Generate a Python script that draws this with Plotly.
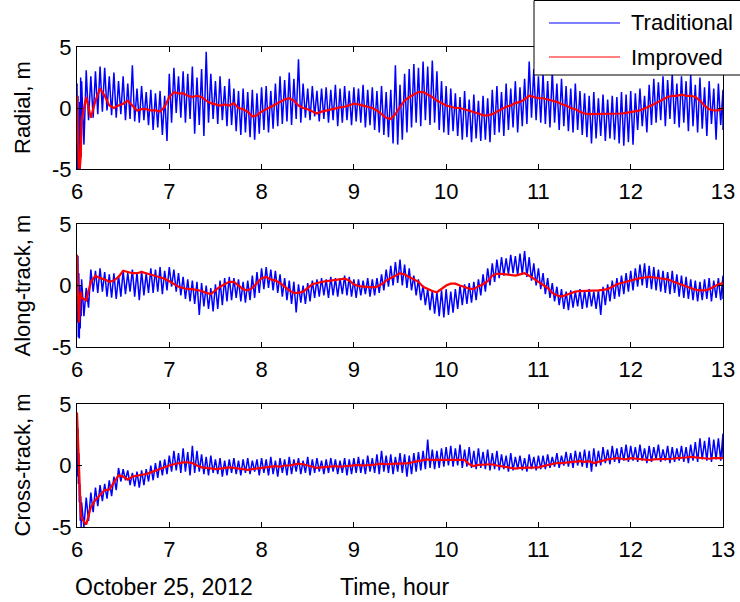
import plotly.graph_objects as go

# ---------------- data ----------------
time_head = [6.00, 6.01, 6.02, 6.03, 6.04]
time_body = [round(6.05 + 0.05 * i, 2) for i in range(140)]
time_h = time_head + time_body

x_ticks = [6, 7, 8, 9, 10, 11, 12, 13]
x_tick_text = ["6", "7", "8", "9", "10", "11", "12", "13"]
y_ticks = [-5, 0, 5]
y_tick_text = ["-5", "0", "5"]

panel_titles = ["Radial, m", "Along-track, m", "Cross-track, m"]
series_names = ["Traditional", "Improved"]

# Radial
radial_improved = [1.0, -1.5, -4.8, -5.0, -4.0,
    -1.0, 0.9, -0.8, 0.6, 1.6, 1.0, 0.2, 0.0, 0.2, 0.35, 0.6, 0.2, -0.2, -0.1, -0.1, -0.2, -0.2, -0.3, 0.1, 0.9,
    1.3, 1.2, 1.2, 1.0, 0.9, 1.0, 0.9, 0.6, 0.4, 0.3, 0.2, 0.3, 0.2, 0.4, 0.0, -0.1, -0.3, -0.7, -0.6, -0.3,
    -0.1, 0.1, 0.35, 0.5, 0.7, 0.8, 0.6, 0.2, 0.0, -0.1, -0.3, -0.45, -0.3, -0.2, -0.1, 0.0, 0.05, 0.1, 0.2, 0.35,
    0.3, 0.2, 0.1, 0.0, -0.2, -0.5, -0.8, -0.9, -0.5, 0.1, 0.6, 0.9, 1.1, 1.3, 1.3, 1.1, 0.9, 0.6, 0.4, 0.2,
    0.1, 0.0, 0.0, -0.1, -0.2, -0.3, -0.45, -0.6, -0.6, -0.5, -0.3, -0.1, 0.1, 0.2, 0.4, 0.5, 0.7, 1.0, 0.9, 0.8,
    0.8, 0.7, 0.6, 0.5, 0.3, 0.2, 0.0, -0.1, -0.3, -0.45, -0.5, -0.5, -0.45, -0.5, -0.5, -0.45, -0.5, -0.45, -0.4, -0.35,
    -0.3, -0.2, -0.05, 0.1, 0.3, 0.5, 0.7, 0.9, 1.0, 1.0, 1.1, 1.0, 1.0, 0.9, 0.6, 0.2, -0.1, -0.2, -0.2, 0.0]
radial_trad_high = [2.0, 1.0, -1.0, 0.5, 2.5,
    2.2, 3.1, 2.6, 3.0, 3.4, 3.3, 2.6, 2.9, 2.2, 2.6, 2.0, 3.5, 1.6, 1.8, 1.3, 1.5, 1.2, 1.4, 1.0, 2.8,
    3.3, 2.6, 3.0, 2.8, 3.4, 2.5, 3.2, 4.6, 2.8, 2.2, 2.6, 1.8, 2.4, 1.6, 1.4, 1.6, 1.3, 1.5, 1.2, 1.7,
    1.8, 1.4, 2.0, 2.6, 2.3, 2.9, 2.4, 4.0, 2.0, 1.6, 1.8, 1.4, 1.6, 1.7, 1.5, 1.9, 1.6, 1.8, 1.4, 1.7,
    1.6, 1.9, 1.5, 1.7, 1.4, 1.8, 1.3, 1.5, 3.5, 1.9, 2.8, 3.2, 3.6, 3.3, 3.8, 3.4, 3.9, 3.0, 2.2, 1.8,
    1.6, 1.2, 0.9, 1.4, 0.7, 1.1, 0.6, 1.0, 0.8, 1.5, 1.8, 1.3, 2.0, 1.6, 2.2, 1.7, 2.4, 3.8, 3.2, 2.6,
    2.8, 2.2, 3.0, 2.0, 2.4, 1.8, 1.6, 2.0, 1.4, 1.2, 1.0, 1.3, 0.8, 1.1, 0.7, 1.0, 0.9, 1.3, 1.1, 1.4,
    1.2, 1.6, 1.0, 1.9, 2.4, 2.1, 2.6, 2.3, 2.8, 2.0, 2.6, 2.2, 2.7, 1.9, 2.5, 1.7, 2.2, 1.6, 2.0, 1.5]
radial_trad_low = [-5.0, -5.0, -5.0, -5.0, -4.0,
    -3.0, -1.0, -0.8, -0.5, -0.3, -0.2, -0.6, -0.8, -0.5, -1.0, -0.9, -1.1, -1.2, -1.0, -1.4, -1.8, -1.6, -2.2, -2.7, -1.2,
    -0.4, -0.8, -1.2, -0.9, -2.1, -1.4, -2.3, -1.2, -0.9, -1.3, -1.0, -1.5, -1.4, -1.9, -2.2, -2.0, -2.4, -2.6, -2.1, -1.8,
    -2.0, -1.7, -1.5, -1.3, -1.1, -1.4, -0.9, -1.2, -0.8, -1.0, -0.7, -1.1, -0.9, -1.2, -1.0, -1.5, -1.2, -1.0, -1.4, -1.1,
    -1.2, -1.6, -1.4, -1.8, -2.0, -2.2, -2.4, -2.9, -3.0, -2.6, -2.0, -1.6, -1.2, -1.5, -1.0, -1.4, -1.2, -1.8, -2.0, -2.2,
    -1.9, -2.3, -2.6, -2.4, -2.8, -2.5, -2.7, -2.6, -2.8, -2.2, -2.0, -2.3, -1.8, -1.6, -2.0, -1.5, -1.3, -0.8, -1.0, -1.2,
    -1.3, -1.6, -1.2, -1.8, -1.5, -1.9, -2.0, -1.8, -2.2, -2.4, -2.9, -2.5, -2.3, -2.7, -2.5, -2.6, -2.9, -3.1, -2.8, -3.0,
    -1.8, -1.5, -2.0, -1.4, -1.2, -1.0, -1.5, -0.9, -1.3, -1.6, -1.2, -1.9, -1.5, -2.0, -1.7, -2.3, -1.3, -2.6, -1.4, -1.8]

# Along-track
along_improved = [2.5, -1.0, -3.0, -1.5, -0.5,
    -1.0, -1.2, 0.3, 0.8, 0.6, 0.5, 0.3, 0.4, 0.7, 1.2, 1.1, 1.0, 1.0, 1.1, 1.0, 0.9, 0.8, 0.7, 0.55, 0.35,
    0.15, -0.1, -0.2, -0.3, -0.3, -0.35, -0.45, -0.6, -0.7, -0.4, -0.1, 0.1, 0.3, 0.3, 0.0, -0.3, -0.4, -0.2, 0.2, 0.6,
    0.7, 0.5, 0.4, 0.2, -0.1, -0.4, -0.6, -0.6, -0.5, -0.2, 0.1, 0.2, 0.3, 0.35, 0.4, 0.45, 0.5, 0.55, 0.4, 0.1,
    -0.05, -0.1, -0.15, -0.15, -0.1, 0.1, 0.4, 0.6, 0.8, 1.0, 0.9, 0.7, 0.45, 0.3, -0.1, -0.3, -0.45, -0.55, -0.3, 0.0,
    0.15, 0.15, 0.0, -0.15, -0.25, -0.3, -0.05, 0.1, 0.35, 0.8, 0.95, 0.95, 0.9, 0.9, 0.8, 0.9, 1.0, 0.8, 0.55, 0.3,
    0.1, -0.2, -0.6, -0.8, -0.9, -0.75, -0.6, -0.5, -0.45, -0.45, -0.45, -0.45, -0.4, -0.35, -0.3, -0.1, 0.1, 0.2, 0.3, 0.45,
    0.55, 0.6, 0.65, 0.7, 0.65, 0.6, 0.55, 0.5, 0.35, 0.2, 0.1, -0.1, -0.2, -0.35, -0.4, -0.4, -0.3, -0.1, 0.1, 0.2]
along_trad_high = [2.0, 2.4, 1.0, 0.0, -0.5,
    0.5, -0.2, 1.3, 1.2, 1.4, 1.1, 0.9, 1.0, 0.8, 1.2, 1.0, 1.3, 1.1, 1.2, 1.0, 1.4, 1.3, 1.5, 1.2, 1.5,
    1.3, 1.0, 0.7, 0.5, 0.4, 0.3, 0.2, 0.0, -0.2, 0.1, 0.4, 0.6, 0.7, 0.6, 0.5, 0.3, 0.4, 0.8, 1.1, 1.4,
    1.5, 1.3, 1.2, 0.9, 0.6, 0.4, 0.3, 0.1, 0.0, 0.2, 0.4, 0.5, 0.6, 0.5, 0.7, 0.6, 0.6, 0.8, 0.7, 0.5,
    0.5, 0.4, 0.6, 0.5, 0.6, 0.9, 1.3, 1.6, 1.9, 2.1, 1.7, 1.4, 0.8, 0.5, 0.0, -0.3, -0.4, -0.5, -0.4, -0.3,
    -0.5, -0.3, 0.0, 0.1, 0.2, 0.3, 0.5, 0.9, 1.4, 1.8, 2.1, 2.3, 2.2, 2.5, 2.4, 2.6, 2.8, 2.3, 1.8, 1.4,
    1.0, 0.6, 0.2, -0.1, -0.3, -0.5, -0.4, -0.5, -0.3, -0.4, -0.3, -0.5, -0.4, -0.1, 0.1, 0.4, 0.6, 0.8, 1.0, 1.2,
    1.4, 1.7, 1.8, 1.6, 1.5, 1.3, 1.2, 1.1, 1.2, 0.9, 0.8, 0.7, 0.5, 0.4, 0.3, 0.5, 0.6, 0.4, 0.6, 0.8]
along_trad_low = [-3.0, -4.2, -4.3, -3.5, -2.5,
    -2.5, -1.8, -0.5, -0.6, -0.5, -0.9, -1.0, -1.1, -0.9, -0.7, -0.5, -0.9, -1.2, -0.8, -0.6, -0.6, -0.5, -0.7, -0.4, -0.1,
    -0.5, -0.8, -1.1, -1.3, -1.5, -2.4, -1.7, -1.9, -2.1, -1.9, -1.6, -1.3, -1.2, -1.0, -1.3, -1.4, -1.2, -1.0, -0.6, -0.3,
    -0.2, -0.4, -0.6, -0.9, -1.2, -1.5, -2.2, -1.4, -1.5, -1.3, -1.0, -0.9, -0.8, -1.0, -0.8, -0.9, -0.7, -0.8, -0.9, -1.0,
    -0.8, -0.7, -0.9, -0.8, -0.6, -0.4, -0.1, 0.0, 0.2, 0.0, -0.2, -0.4, -0.8, -1.2, -1.6, -2.0, -2.3, -2.5, -2.6, -2.4,
    -2.2, -1.9, -1.6, -1.5, -1.4, -1.2, -0.8, -0.5, 0.0, 0.3, 0.6, 0.8, 0.9, 1.0, 0.8, 0.9, 0.7, 0.4, 0.0, -0.3,
    -0.7, -1.0, -1.3, -1.6, -1.9, -2.0, -1.8, -1.7, -1.9, -1.8, -1.7, -1.9, -2.4, -1.6, -1.3, -1.1, -0.9, -0.7, -0.5, -0.4,
    -0.1, 0.0, -0.2, -0.3, -0.4, -0.5, -0.6, -0.7, -0.6, -0.9, -1.0, -1.1, -1.2, -1.3, -1.2, -1.1, -1.3, -1.0, -1.2, -1.1]

# Cross-track
cross_improved = [4.3, 2.4, -0.9, -2.8, -3.8,
    -4.3, -4.8, -3.4, -2.8, -2.4, -2.0, -1.95, -1.4, -0.8, -0.9, -1.15, -0.9, -0.8, -0.75, -0.7, -0.55, -0.45, -0.3, -0.15, 0.0,
    0.1, 0.2, 0.25, 0.25, 0.2, 0.0, -0.15, -0.2, -0.25, -0.3, -0.25, -0.2, -0.15, -0.2, -0.25, -0.3, -0.35, -0.3, -0.25, -0.2,
    -0.15, -0.1, -0.05, -0.1, 0.0, 0.0, 0.1, 0.15, 0.1, 0.0, -0.1, -0.2, -0.15, -0.1, -0.05, -0.05, -0.1, -0.05, 0.0, 0.05,
    0.05, 0.0, 0.0, 0.05, 0.1, 0.15, 0.1, 0.15, 0.15, 0.15, 0.15, 0.2, 0.3, 0.35, 0.45, 0.5, 0.45, 0.45, 0.45, 0.45,
    0.45, 0.45, 0.5, 0.45, 0.1, -0.05, 0.05, 0.05, 0.05, 0.1, 0.0, -0.05, -0.1, -0.2, -0.25, -0.2, -0.2, -0.2, -0.2, -0.15,
    -0.05, 0.05, 0.15, 0.2, 0.2, 0.25, 0.3, 0.3, 0.35, 0.3, 0.35, 0.2, 0.3, 0.45, 0.5, 0.55, 0.6, 0.55, 0.5, 0.6,
    0.55, 0.5, 0.5, 0.45, 0.5, 0.5, 0.5, 0.55, 0.55, 0.6, 0.6, 0.65, 0.7, 0.65, 0.6, 0.55, 0.55, 0.6, 0.6, 0.6]
cross_trad_high = [3.2, 3.0, 1.0, -1.5, -2.5,
    -3.0, -2.6, -2.2, -1.8, -1.6, -1.5, -1.2, -0.9, -0.2, -0.3, -0.4, -0.6, -0.5, -0.4, -0.3, 0.0, 0.2, 0.4, 0.5, 0.8,
    1.2, 1.0, 1.4, 1.1, 1.6, 1.2, 0.9, 0.7, 0.8, 0.5, 0.6, 0.4, 0.5, 0.6, 0.4, 0.5, 0.6, 0.4, 0.5, 0.6,
    0.5, 0.7, 0.4, 0.6, 0.5, 0.7, 0.5, 0.6, 0.4, 0.7, 0.5, 0.6, 0.4, 0.5, 0.6, 0.5, 0.4, 0.6, 0.5, 0.6,
    0.7, 0.5, 0.8, 0.6, 0.9, 1.2, 0.8, 0.9, 0.7, 1.0, 0.9, 0.8, 1.0, 1.1, 1.2, 2.1, 1.3, 1.2, 1.4, 1.5,
    1.6, 1.4, 1.7, 1.3, 1.5, 1.2, 1.4, 1.1, 1.3, 1.0, 1.2, 0.9, 0.8, 1.0, 0.7, 0.8, 0.6, 0.9, 0.7, 0.8,
    0.8, 0.9, 0.7, 1.0, 0.8, 1.1, 1.0, 1.2, 1.1, 1.3, 1.2, 1.4, 1.2, 1.5, 1.3, 1.6, 1.4, 1.5, 1.7, 1.6,
    1.5, 1.7, 1.4, 1.6, 1.5, 1.7, 1.3, 1.6, 1.5, 1.4, 1.6, 1.5, 1.7, 1.9, 2.2, 2.0, 2.3, 2.1, 2.2, 2.6]
cross_trad_low = [-0.9, -1.5, -3.0, -4.5, -5.0,
    -5.0, -4.5, -3.8, -3.3, -2.9, -2.7, -2.5, -2.0, -1.3, -1.2, -1.6, -1.7, -1.8, -1.6, -1.3, -1.2, -1.0, -0.8, -0.7, -0.5,
    -0.4, -0.6, -0.5, -0.8, -0.6, -0.5, -0.7, -0.8, -0.6, -0.7, -0.9, -0.8, -0.6, -0.7, -0.8, -0.6, -0.7, -0.5, -0.8, -0.6,
    -0.8, -0.7, -0.9, -0.6, -0.8, -0.7, -0.5, -0.7, -0.6, -0.8, -0.6, -0.5, -0.7, -0.6, -0.5, -0.7, -0.6, -0.8, -0.7, -0.6,
    -0.6, -0.7, -0.5, -0.6, -0.7, -0.5, -0.6, -0.7, -0.5, -0.6, -0.9, -0.7, -0.5, -0.4, -0.3, -0.2, -0.3, -0.2, -0.1, 0.0,
    -0.1, 0.0, -0.2, -0.1, -0.2, -0.3, -0.2, -0.3, -0.4, -0.3, -0.4, -0.3, -0.5, -0.4, -0.3, -0.4, -0.5, -0.3, -0.4, -0.3,
    -0.3, -0.2, -0.1, -0.2, 0.0, -0.1, -0.2, 0.0, -0.1, -0.2, -0.5, -0.1, 0.0, 0.2, 0.1, 0.3, 0.2, 0.4, 0.3, 0.4,
    0.3, 0.4, 0.2, 0.3, 0.5, 0.3, 0.4, 0.2, 0.3, 0.4, 0.3, 0.2, 0.4, 0.3, 0.5, 0.4, 0.3, 0.5, 0.4, 0.6]

# ---------------- figure ----------------
W, H = 740, 602
BLUE = "#0000FF"
RED = "#FF0000"
FONT = "Liberation Sans, Arial, Helvetica, sans-serif"
FS = 22


def zigzag(t, high, low):
    xs, ys = [], []
    n = len(t)
    for i in range(n):
        nxt = t[i + 1] if i + 1 < n else t[i]
        xs.append(t[i]); ys.append(high[i])
        xs.append((t[i] + nxt) / 2); ys.append(low[i])
    return xs, ys


panels = [
    (radial_trad_high, radial_trad_low, radial_improved),
    (along_trad_high, along_trad_low, along_improved),
    (cross_trad_high, cross_trad_low, cross_improved),
]

# pixel boxes of the three axes (top, bottom)
px_left, px_right = 77, 723
px_rows = [(47, 169), (224, 347), (404, 527)]

fig = go.Figure()
for k, (hi, lo, imp) in enumerate(panels):
    ax = "" if k == 0 else str(k + 1)
    bx, by = zigzag(time_h, hi, lo)
    fig.add_trace(go.Scatter(x=bx, y=by, mode="lines", name=series_names[0],
                             line=dict(color=BLUE, width=1.5), showlegend=False,
                             xaxis="x" + ax, yaxis="y" + ax))
    fig.add_trace(go.Scatter(x=time_h, y=imp, mode="lines", name=series_names[1],
                             line=dict(color=RED, width=2.2), showlegend=False,
                             xaxis="x" + ax, yaxis="y" + ax))

layout = dict(
    width=W, height=H,
    margin=dict(l=0, r=0, t=0, b=0, autoexpand=False),
    paper_bgcolor="white", plot_bgcolor="white",
    font=dict(family=FONT, size=FS, color="black"),
    showlegend=False,
)
for k, (top, bot) in enumerate(px_rows):
    ax = "" if k == 0 else str(k + 1)
    layout["xaxis" + ax] = dict(
        domain=[px_left / W, px_right / W], range=[6, 13], anchor="y" + ax,
        tickvals=x_ticks, ticktext=x_tick_text, ticks="inside", ticklen=5,
        tickcolor="black", showline=True, linecolor="black", linewidth=1,
        mirror="ticks", showgrid=False, zeroline=False, automargin=False,
        ticklabelstandoff=3,
        tickfont=dict(family=FONT, size=FS, color="black"))
    layout["yaxis" + ax] = dict(
        domain=[1 - bot / H, 1 - top / H], range=[-5, 5], anchor="x" + ax,
        tickvals=y_ticks, ticktext=y_tick_text, ticks="inside", ticklen=5,
        tickcolor="black", showline=True, linecolor="black", linewidth=1,
        mirror="ticks", showgrid=False, zeroline=False, automargin=False,
        tickfont=dict(family=FONT, size=FS, color="black"))
fig.update_layout(**layout)

# y-axis titles
for k, (top, bot) in enumerate(px_rows):
    fig.add_annotation(text=panel_titles[k], xref="paper", yref="paper",
                       x=22 / W, y=1 - (top + bot) / 2 / H, textangle=-90,
                       showarrow=False, xanchor="center", yanchor="middle",
                       font=dict(family=FONT, size=FS, color="black"))

# bottom texts
fig.add_annotation(text="October 25, 2012", xref="paper", yref="paper",
                   x=73 / W, y=1 - 587 / H, xanchor="left", yanchor="middle",
                   showarrow=False, font=dict(family=FONT, size=23, color="black"))
fig.add_annotation(text="Time, hour", xref="paper", yref="paper",
                   x=338 / W, y=1 - 587 / H, xanchor="left", yanchor="middle",
                   showarrow=False, font=dict(family=FONT, size=23, color="black"))

# legend box (MATLAB style)
fig.add_shape(type="rect", xref="paper", yref="paper",
              x0=534 / W, x1=1.01, y0=1 - 75 / H, y1=1 - 0.5 / H,
              line=dict(color="black", width=1), fillcolor="white", layer="above")
for j, (name, col, yy) in enumerate([(series_names[0], BLUE, 23), (series_names[1], RED, 57)]):
    fig.add_shape(type="line", xref="paper", yref="paper",
                  x0=549 / W, x1=620 / W, y0=1 - yy / H, y1=1 - yy / H,
                  line=dict(color=col, width=1), layer="above")
    fig.add_annotation(text=name, xref="paper", yref="paper",
                       x=629 / W, y=1 - yy / H, xanchor="left", yanchor="middle",
                       showarrow=False, font=dict(family=FONT, size=FS, color="black"))

fig.write_html("out.html",
               config={"displayModeBar": False},
               post_script="document.body.style.margin='0';document.body.style.padding='0';"
                           "document.body.style.overflow='hidden';")
